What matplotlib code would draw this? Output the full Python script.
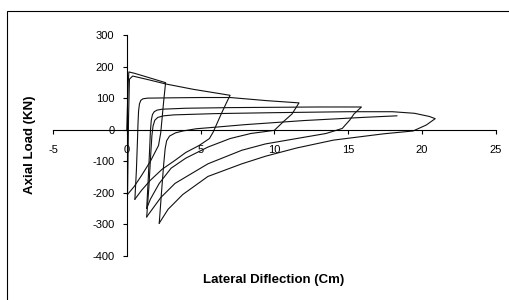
import matplotlib
matplotlib.use("Agg")
import matplotlib.pyplot as plt
from matplotlib.patches import Rectangle

plt.rcParams['font.family'] = ['Liberation Sans', 'DejaVu Sans']

# ---- data ----
# initial loading, first post-buckling branch, unloading, tension branch
c0_x = [0.0, 0.05, 0.1, 0.14, 0.5, 1.5, 2.63, 2.5, 2.4, 2.3, 2.15, 1.6, 1.0, 0.5, 0.05]
c0_y = [0, 80, 150, 183, 179, 165, 149, 90, 40, -10, -50, -100, -145, -180, -205]
# reload 0 and branch to second peak, unloading, tension branch
c1_x = [0.05, 0.08, 0.12, 0.18, 0.4, 1.5, 2.63, 4.5, 7.0, 6.7, 6.4, 5.86, 5.6, 4.9, 4.0, 3.27, 2.4, 1.6, 1.0, 0.55]
c1_y = [-205, -100, 40, 160, 170, 158, 145, 128, 109, 80, 50, -7, -28, -50, -72, -97, -125, -160, -192, -220]
# reload 1 to third peak, unloading, tension branch
c2_x = [0.55, 0.65, 0.72, 0.76, 0.8, 0.86, 0.95, 1.1, 1.4, 3.0, 5.0, 7.0, 9.5, 11.67, 11.2, 10.6, 10.0, 8.4, 7.0, 5.5, 4.0, 3.0, 2.2, 1.6, 1.35]
c2_y = [-220, -130, -40, 20, 60, 82, 93, 98, 100, 101, 102, 102, 92, 85, 50, 25, -2, -12, -28, -55, -90, -122, -170, -220, -249]
# reload 2 to fourth peak, unloading, tension branch
c3_x = [1.35, 1.45, 1.55, 1.6, 1.66, 1.74, 1.86, 2.05, 2.4, 4.0, 7.0, 10.0, 13.0, 15.9, 15.4, 15.1, 14.6, 13.5, 12.0, 9.4, 7.8, 5.5, 3.27, 2.3, 1.35]
c3_y = [-249, -160, -60, -5, 30, 48, 57, 62, 65, 68, 70, 71, 72, 72, 50, 30, 4, -12, -24, -45, -65, -108, -170, -215, -276]
# reload 3 to fifth peak, unloading, tension branch
c4_x = [1.35, 1.5, 1.62, 1.7, 1.78, 1.9, 2.1, 2.5, 3.2, 6.0, 10.0, 15.0, 18.0, 19.5, 20.5, 20.9, 20.3, 19.4, 17.4, 14.0, 11.5, 9.4, 7.8, 5.5, 3.8, 2.8, 2.2]
c4_y = [-276, -180, -80, -20, 12, 30, 39, 44, 47, 51, 54, 57, 57, 52, 42, 35, 15, -4, -13, -33, -58, -84, -108, -148, -205, -252, -296]
# final reload branch
c5_x = [2.2, 2.35, 2.5, 2.6, 2.7, 2.9, 3.3, 3.8, 4.7, 6.0, 8.0, 12.0, 16.0, 18.3]
c5_y = [-296, -200, -110, -60, -35, -20, -10, -4, 3, 8, 16, 29, 39, 44]

cycles = [(c0_x, c0_y), (c1_x, c1_y), (c2_x, c2_y), (c3_x, c3_y), (c4_x, c4_y), (c5_x, c5_y)]

x_ticks = [-5, 0, 5, 10, 15, 20, 25]
y_ticks = [-400, -300, -200, -100, 0, 100, 200, 300]
x_title = "Lateral Diflection (Cm)"
y_title = "Axial Load (KN)"

# ---- figure ----
fig = plt.figure(figsize=(5.09, 3.0), dpi=100)
ax = fig.add_axes([53/509, 1-256/300, (495.7-53)/509, (256-35)/300])

for cx, cy in cycles:
    ax.plot(cx, cy, color='#111111', lw=0.8, solid_joinstyle='round')

ax.set_xlim(-5, 25)
ax.set_ylim(-400, 300)
ax.spines['left'].set_position(('data', 0))
ax.spines['bottom'].set_position(('data', 0))
ax.spines['top'].set_visible(False)
ax.spines['right'].set_visible(False)
for s in ('left', 'bottom'):
    ax.spines[s].set_linewidth(0.8)
ax.set_xticks(x_ticks)
ax.set_yticks(y_ticks)
ax.set_xticklabels([str(t) for t in x_ticks])
ax.set_yticklabels([str(t) for t in y_ticks])
ax.tick_params(axis='x', direction='out', length=3, width=0.8, pad=8, labelsize=8, colors='black')
ax.tick_params(axis='y', direction='out', length=3, width=0.8, pad=6, labelsize=8, colors='black')
ax.patch.set_visible(False)

fig.text(274/509, 1-280/300, x_title, ha='center', va='center', fontsize=9.5, fontweight='bold')
fig.text(30/509, 1-145/300, y_title, ha='center', va='center', rotation=90, fontsize=9.5, fontweight='bold')

fig.patches.append(Rectangle((7/509, -0.1), 1.2, 0.1 + 1-11/300, transform=fig.transFigure,
                             fill=False, edgecolor='black', lw=0.8))

fig.savefig("out.png", dpi=100)
